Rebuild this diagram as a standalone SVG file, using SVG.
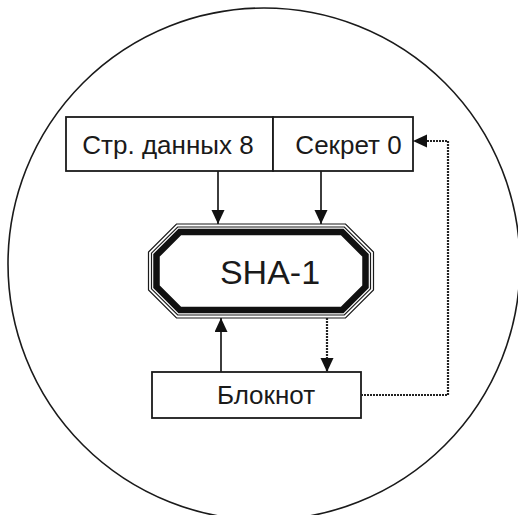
<svg xmlns="http://www.w3.org/2000/svg" width="518" height="515" viewBox="0 0 518 515">
<style>
.box{fill:#fff;stroke:#1a1a1a;stroke-width:1.8}
.lbl{font-family:"Liberation Sans",Arial,sans-serif;font-size:26px;fill:#1a1a1a;text-anchor:middle}
.solid{stroke:#1a1a1a;stroke-width:1.7;fill:none}
.dash{stroke:#222;stroke-width:2.2;stroke-dasharray:2 1;fill:none}
</style>
<defs>
<marker id="ah" markerUnits="userSpaceOnUse" markerWidth="14" markerHeight="14" refX="14" refY="6.5" orient="auto">
<path d="M0,0 L14,6.5 L0,13 z" fill="#111"/>
</marker>
</defs>
<rect width="518" height="515" fill="#fff"/>
<circle cx="264" cy="264" r="256" fill="none" stroke="#1a1a1a" stroke-width="1.6"/>
<g id="data-page">
<rect class="box" x="66" y="117" width="207" height="54"/>
<text class="lbl" x="168" y="154">Стр. данных 8</text>
</g>
<g id="secret">
<rect class="box" x="273" y="117" width="140" height="54"/>
<text class="lbl" x="348.5" y="154">Секрет 0</text>
</g>
<g id="sha1">
<polygon points="176.5,224 345.5,224 373.5,252 373.5,290 345.5,318 176.5,318 148.5,290 148.5,252" fill="#fff" stroke="#1a1a1a" stroke-width="1.2"/>
<polygon points="177.7,227 344.3,227 370.5,253.2 370.5,288.8 344.3,315 177.7,315 151.5,288.8 151.5,253.2" fill="none" stroke="#1a1a1a" stroke-width="1.2"/>
<polygon points="179.8,232 342.2,232 365.5,255.3 365.5,286.7 342.2,310 179.8,310 156.5,286.7 156.5,255.3" fill="none" stroke="#111" stroke-width="6.5"/>
<text x="270" y="284" font-family="'Liberation Sans',Arial,sans-serif" font-size="34" fill="#1a1a1a" text-anchor="middle">SHA-1</text>
</g>
<g id="notepad">
<rect class="box" x="152" y="372" width="209" height="46"/>
<text class="lbl" x="266" y="404">Блокнот</text>
</g>
<g id="connectors">
<line class="solid" x1="218" y1="171" x2="218" y2="224" marker-end="url(#ah)"/>
<line class="solid" x1="321" y1="171" x2="321" y2="224" marker-end="url(#ah)"/>
<line class="solid" x1="221" y1="372" x2="221" y2="318" marker-end="url(#ah)"/>
<line class="dash" x1="327" y1="318" x2="327" y2="372" marker-end="url(#ah)"/>
<polyline class="dash" points="361,395 448,395 448,141 413,141" marker-end="url(#ah)"/>
</g>
</svg>
